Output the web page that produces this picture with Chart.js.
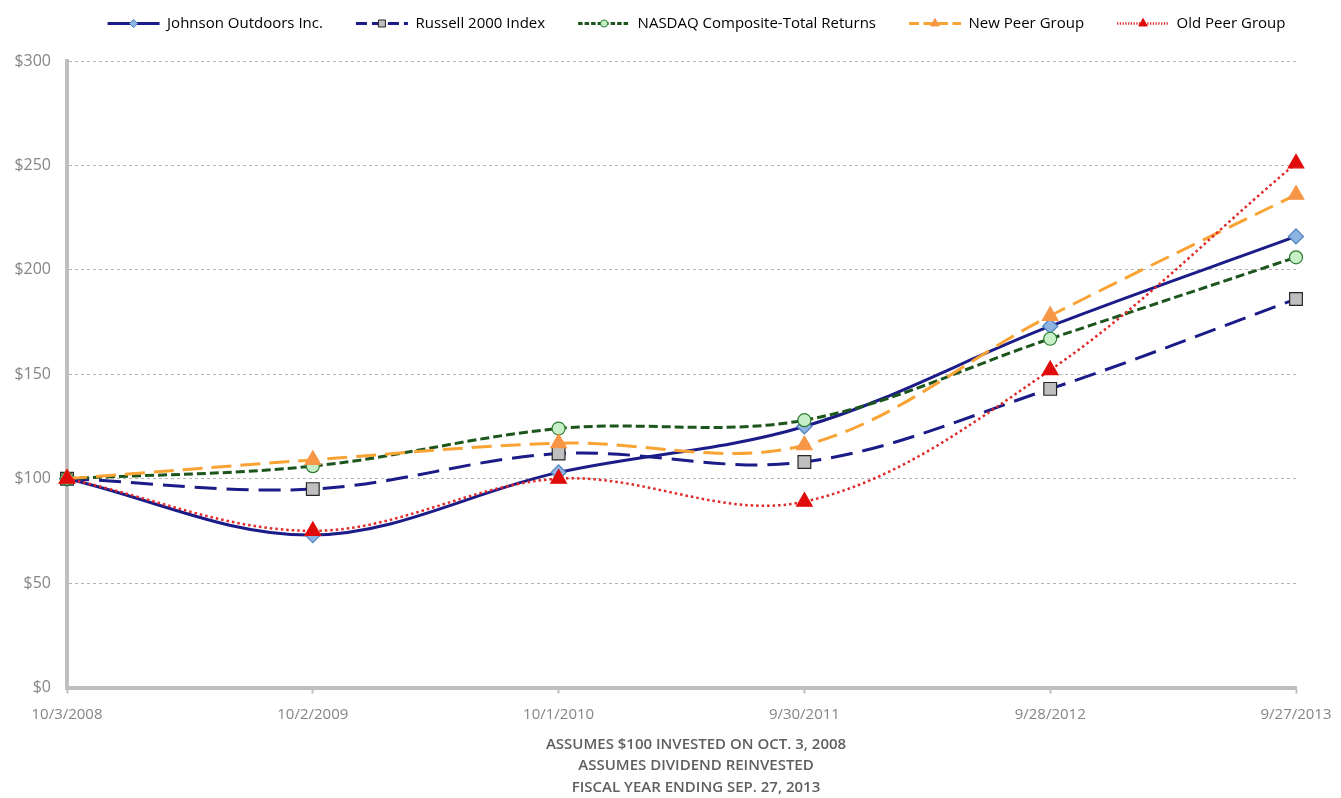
<!DOCTYPE html>
<html>
<head>
<meta charset="utf-8">
<script src="https://cdn.jsdelivr.net/npm/chart.js@4/dist/chart.umd.min.js"></script>
<style>
  html, body { margin: 0; padding: 0; background: #fff; }
  #wrap { width: 1341px; height: 798px; }
</style>
</head>
<body>
<div id="wrap"><canvas id="chart"></canvas></div>
<script>
const dates = ['10/3/2008', '10/2/2009', '10/1/2010', '9/30/2011', '9/28/2012', '9/27/2013'];

const johnson = [100, 73, 103, 125, 173, 216];
const russell = [100, 95, 112, 108, 143, 186];
const nasdaq = [100, 106, 124, 128, 167, 206];
const newPeer = [100, 109, 117, 116, 178, 236];
const oldPeer = [100, 75, 100, 89, 152, 251];

const yTicks = [0, 50, 100, 150, 200, 250, 300];
const footNotes = ['ASSUMES $100 INVESTED ON OCT. 3, 2008', 'ASSUMES DIVIDEND REINVESTED', 'FISCAL YEAR ENDING SEP. 27, 2013'];

const FONT = '"Open Sans", Lato, sans-serif';
const SAMPLE = 52;   // legend line sample length
const GAP = 17;      // extra spacing before each sample
const LEGEND_SHIFT = 40;
const NOTE_SHIFT = 48;

function series(label, data, color, dash, width, style, radius, fill, border, order) {
  return {
    label, data,
    borderColor: color,
    borderDash: dash,
    borderWidth: width,
    tension: 0.35,
    pointStyle: style,
    pointRadius: radius,
    pointHoverRadius: radius,
    pointBackgroundColor: fill,
    pointBorderColor: border,
    pointBorderWidth: 1.2,
    fill: false,
    order
  };
}

const datasets = [
  series('Johnson Outdoors Inc.', johnson, '#1c1c88', [], 3, 'rectRot', 7.5, '#8db4e2', '#4f81bd', 5),
  series('Russell 2000 Index', russell, '#1c1c88', [22, 10], 3, 'rect', 9, '#bfbfbf', '#262626', 4),
  series('NASDAQ Composite-Total Returns', nasdaq, '#1d561d', [9, 4], 3, 'circle', 6.5, '#c8f0c8', '#2e7d32', 3),
  series('New Peer Group', newPeer, '#f8a333', [20, 9], 3, 'triangle', 9, '#f79646', '#f79646', 2),
  series('Old Peer Group', oldPeer, '#e02828', [2.5, 3], 2.5, 'triangle', 9, '#e00c0c', '#e00c0c', 1)
];

function shifted(box, dx) {
  const draw = box.draw;
  box.draw = function () {
    const ctx = this.ctx;
    ctx.save();
    ctx.translate(dx, 0);
    draw.apply(this, arguments);
    ctx.restore();
  };
}

// draws line + marker samples into the (blank) legend boxes,
// adds space under the legend and nudges legend / footnote blocks
const legendSamples = {
  id: 'legendSamples',
  afterInit(chart) {
    const lg = chart.legend;
    const fit = lg.fit;
    lg.fit = function () { fit.call(this); this.height += 20; };
    shifted(lg, LEGEND_SHIFT);
    shifted(chart.titleBlock, NOTE_SHIFT);
  },
  afterDraw(chart) {
    const lg = chart.legend;
    if (!lg || !lg.legendHitBoxes) return;
    const ctx = chart.ctx;
    lg.legendHitBoxes.forEach((box, i) => {
      const ds = chart.data.datasets[i];
      const y = box.top + box.height / 2;
      const x0 = box.left + GAP + LEGEND_SHIFT;
      const x1 = x0 + SAMPLE;
      ctx.save();
      ctx.strokeStyle = ds.borderColor;
      ctx.lineWidth = ds.borderWidth;
      ctx.setLineDash(ds.borderDash.length ? ds.borderDash.map(v => v * 0.5) : []);
      ctx.beginPath();
      ctx.moveTo(x0, y);
      ctx.lineTo(x1, y);
      ctx.stroke();
      ctx.setLineDash([]);
      ctx.fillStyle = ds.pointBackgroundColor;
      ctx.strokeStyle = ds.pointBorderColor;
      ctx.lineWidth = 1;
      Chart.helpers.drawPoint(ctx, {pointStyle: ds.pointStyle, radius: ds.pointRadius * 0.55, rotation: 0, borderWidth: 1}, (x0 + x1) / 2, y);
      ctx.restore();
    });
  }
};

new Chart(document.getElementById('chart'), {
  type: 'line',
  data: { labels: dates, datasets },
  plugins: [legendSamples],
  options: {
    responsive: true,
    maintainAspectRatio: false,
    animation: false,
    layout: { padding: { top: 0, right: 45, bottom: 0, left: 0 } },
    plugins: {
      tooltip: { enabled: false },
      legend: {
        position: 'top',
        labels: {
          boxWidth: SAMPLE + GAP,
          boxHeight: 13,
          padding: 16,
          color: '#1a1a1a',
          font: { family: FONT, size: 15 },
          generateLabels: (chart) => chart.data.datasets.map((ds, i) => ({
            text: ds.label,
            datasetIndex: i,
            fillStyle: 'rgba(0,0,0,0)',
            strokeStyle: 'rgba(0,0,0,0)',
            lineWidth: 0,
            hidden: false
          }))
        }
      },
      title: {
        display: true,
        position: 'bottom',
        text: footNotes,
        color: '#5f5f5f',
        font: { family: FONT, size: 15, weight: '600', lineHeight: '21.5px' },
        padding: { top: 6, bottom: 0 }
      }
    },
    scales: {
      x: {
        offset: false,
        grid: { drawOnChartArea: false, drawTicks: true, tickLength: 6, tickColor: '#bfbfbf', tickWidth: 2 },
        border: { display: true, color: '#bfbfbf', width: 4 },
        ticks: { color: '#858585', font: { family: FONT, size: 15 }, padding: 12, maxRotation: 0, autoSkip: false },
        afterFit(scale) { scale.height = 40; scale.paddingRight = 40; }
      },
      y: {
        min: 0,
        max: 300,
        afterBuildTicks(scale) { scale.ticks = yTicks.map(v => ({ value: v })); },
        grid: { color: '#b4b4b4', lineWidth: 1, drawTicks: false },
        border: { display: true, color: '#bfbfbf', width: 4, dash: [3, 3] },
        ticks: { color: '#858585', font: { family: FONT, size: 16 }, padding: 16, callback: v => '$' + v },
        afterFit(scale) { scale.width = 67; }
      }
    }
  }
});
</script>
</body>
</html>
